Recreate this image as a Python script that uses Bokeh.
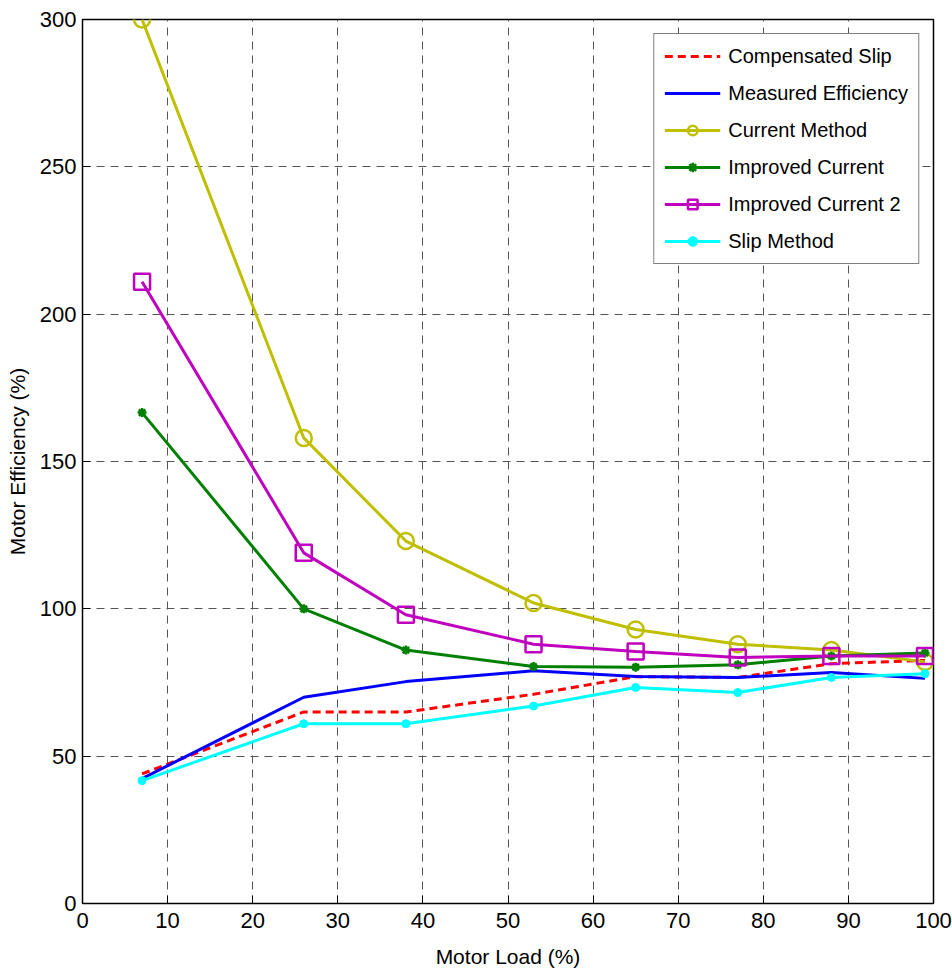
from bokeh.plotting import figure
from bokeh.models import Range1d, Legend, LegendItem, FixedTicker
from bokeh.embed import file_html
from bokeh.resources import INLINE

load = [7, 26, 38, 53, 65, 77, 88, 99]
compensated_slip = [44, 65, 65, 71, 77, 76.7, 81.4, 82.5]
measured_eff = [42.4, 70, 75.3, 79, 77, 76.7, 78.4, 76.4]
current_method = [300, 158, 123, 102, 93, 88, 86, 82]
improved_current = [166.6, 100, 86, 80.4, 80.2, 81, 84, 85]
improved_current2 = [211, 119, 98, 88, 85.5, 83.5, 84, 84]
slip_method = [41.7, 61, 61, 67, 73.3, 71.6, 76.7, 78]

FONT = "Liberation Sans"

p = figure(width=952, height=977, output_backend="svg", toolbar_location=None,
           x_range=Range1d(0, 100), y_range=Range1d(0, 300),
           min_border_left=82, min_border_right=19, min_border_top=19, min_border_bottom=74)

p.outline_line_color = "black"
p.outline_line_width = 1.5
p.background_fill_color = "white"
p.border_fill_color = "white"

for ax in (p.xaxis[0], p.yaxis[0]):
    ax.major_label_text_font = FONT
    ax.major_label_text_font_size = "22px"
    ax.major_label_text_color = "black"
    ax.axis_label_text_font = FONT
    ax.axis_label_text_font_size = "21px"
    ax.axis_label_text_font_style = "normal"
    ax.axis_label_text_color = "black"
    ax.major_tick_in = 8
    ax.major_tick_out = 0
    ax.minor_tick_line_color = None
    ax.axis_line_color = "black"
    ax.major_tick_line_color = "black"

p.xaxis.ticker = FixedTicker(ticks=list(range(0, 101, 10)))
p.yaxis.ticker = FixedTicker(ticks=list(range(0, 301, 50)))
p.xaxis.axis_label = "Motor Load (%)"
p.yaxis.axis_label = "Motor Efficiency (%)"
p.xaxis.major_label_standoff = 9
p.yaxis.major_label_standoff = 6
p.xaxis.axis_label_standoff = 14
p.yaxis.axis_label_standoff = 8

p.grid.grid_line_color = "#555555"
p.grid.grid_line_dash = "8 6"
p.grid.grid_line_width = 1

r_red = p.line(load, compensated_slip, line_color="red", line_width=3, line_dash="8 5")
r_blue = p.line(load, measured_eff, line_color="blue", line_width=3)
r_yl = p.line(load, current_method, line_color="#BFBF00", line_width=3)
r_ym = p.scatter(load, current_method, marker="circle", size=16, fill_color=None,
                 line_color="#BFBF00", line_width=2.5)
r_gl = p.line(load, improved_current, line_color="#008000", line_width=3)
r_gm = p.scatter(load, improved_current, marker="asterisk", size=9,
                 line_color="#008000", line_width=2.5)
r_ml = p.line(load, improved_current2, line_color="#BF00BF", line_width=3)
r_mm = p.scatter(load, improved_current2, marker="square", size=16, fill_color=None,
                 line_color="#BF00BF", line_width=2.5)
r_cl = p.line(load, slip_method, line_color="cyan", line_width=3)
r_cm = p.scatter(load, slip_method, marker="circle", size=8, fill_color="cyan",
                 line_color="cyan")

legend = Legend(items=[
    LegendItem(label="Compensated Slip", renderers=[r_red]),
    LegendItem(label="Measured Efficiency", renderers=[r_blue]),
    LegendItem(label="Current Method", renderers=[r_yl, r_ym]),
    LegendItem(label="Improved Current", renderers=[r_gl, r_gm]),
    LegendItem(label="Improved Current 2", renderers=[r_ml, r_mm]),
    LegendItem(label="Slip Method", renderers=[r_cl, r_cm]),
], location="top_right")
legend.label_text_font = FONT
legend.label_text_font_size = "20px"
legend.label_text_color = "black"
legend.glyph_width = 56
legend.glyph_height = 24
legend.spacing = 13
legend.padding = 10
legend.margin = 14
legend.label_standoff = 8
legend.border_line_color = "black"
legend.border_line_width = 1.5
legend.background_fill_alpha = 1
p.add_layout(legend)

open("out.html", "w").write(file_html(p, INLINE))
